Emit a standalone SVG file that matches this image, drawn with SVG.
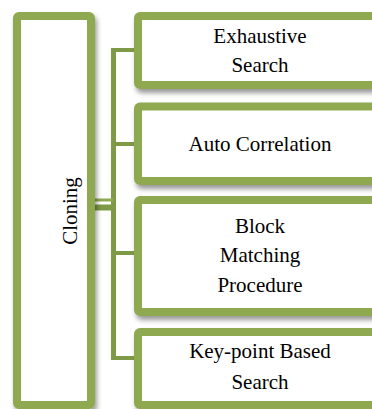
<svg xmlns="http://www.w3.org/2000/svg" width="372" height="409" viewBox="0 0 372 409">
<style>
.box{fill:#ffffff;stroke:#8EA94F;stroke-width:8;filter:url(#sh)}
.conn{stroke:#7F9A46;fill:none}
.t{font-family:"Liberation Serif","Times New Roman",serif;font-size:21px;fill:#000000;text-anchor:middle}
</style>
<defs>
<filter id="sh" x="-10%" y="-10%" width="130%" height="130%">
<feDropShadow dx="2" dy="4" stdDeviation="2.5" flood-color="#000" flood-opacity="0.4"/>
</filter>
</defs>
<rect width="372" height="409" fill="#ffffff"/>
<g id="connectors">
<line class="conn" x1="113.5" y1="48" x2="113.5" y2="360" stroke-width="5"/>
<line class="conn" x1="111" y1="50" x2="136" y2="50" stroke-width="4"/>
<line class="conn" x1="111" y1="144" x2="136" y2="144" stroke-width="4"/>
<line class="conn" x1="111" y1="253" x2="136" y2="253" stroke-width="4"/>
<line class="conn" x1="111" y1="358" x2="136" y2="358" stroke-width="4"/>
<line x1="93" y1="200" x2="113" y2="200" stroke="#8EA94F" stroke-width="3"/>
<line class="conn" x1="93" y1="207.5" x2="113" y2="207.5" stroke-width="6"/>
</g>
<g id="cloning">
<rect class="box" x="17" y="16" width="74" height="389" rx="2"/>
<text class="t" transform="translate(77,211) rotate(-90)">Cloning</text>
</g>
<g id="exhaustive">
<rect class="box" x="138" y="16" width="248" height="69" rx="2"/>
<text class="t" x="260" y="43">Exhaustive</text>
<text class="t" x="260" y="72">Search</text>
</g>
<g id="autocorrelation">
<rect class="box" x="138" y="106.5" width="248" height="74.5" rx="2"/>
<text class="t" x="260" y="151">Auto Correlation</text>
</g>
<g id="blockmatching">
<rect class="box" x="138" y="200" width="248" height="112" rx="2"/>
<text class="t" x="260" y="233">Block</text>
<text class="t" x="260" y="262">Matching</text>
<text class="t" x="260" y="292">Procedure</text>
</g>
<g id="keypoint">
<rect class="box" x="138" y="332" width="248" height="73" rx="2"/>
<text class="t" x="260" y="358">Key-point Based</text>
<text class="t" x="260" y="389">Search</text>
</g>
</svg>
